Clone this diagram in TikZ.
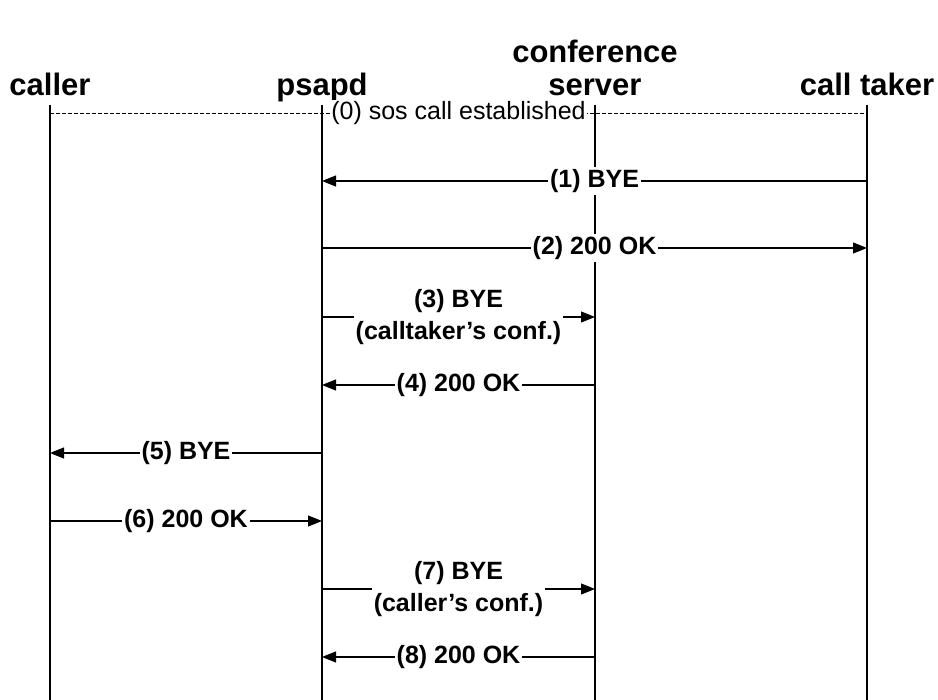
\documentclass[tikz,border=0pt]{standalone}
\usepackage{fontspec}
\setmainfont{Liberation Sans}
\usetikzlibrary{arrows.meta,positioning}
\tikzset{
  base/.style={font=\bfseries\fontsize{25}{32}\selectfont, align=center, inner sep=2pt},
  head/.style={base, font=\bfseries\fontsize{31}{33}\selectfont, anchor=base},
  life/.style={line width=2.8pt},
  msg/.style={-{Triangle[length=14pt,width=11pt]}, line width=1.1pt},
  lbl/.style={base, fill=white},
  est/.style={dash pattern=on 4pt off 2pt, line width=0.7pt},
  estlbl/.style={lbl, font=\fontsize{25}{28}\selectfont, inner sep=1pt},
}

\begin{document}
\begin{tikzpicture}[x=1pt,y=-1pt]
  \useasboundingbox (0,0) rectangle (938,700);
  % lifelines
  \foreach \n/\x/\t in {caller/50/caller, psapd/322/psapd, conf/595/{conference\\server}, taker/867/{call taker}}{
    \node[head] (\n) at (\x,96) {\t};
    \coordinate (\n top) at (\x,105);
    \coordinate (\n end) at (\x,700);
    \draw[life] (\n top) -- (\n end);
  }
  % established call
  \coordinate (y0) at (0,113);
  \draw[est] (caller |- y0) -- (taker |- y0) node[estlbl, midway] {(0) sos call established};
  % messages
  \foreach \y/\a/\b/\t in {181/taker/psapd/{(1) BYE},
                           248/psapd/taker/{(2) 200 OK},
                           317/psapd/conf/{(3) BYE\\(calltaker’s conf.)},
                           385/conf/psapd/{(4) 200 OK},
                           453/psapd/caller/{(5) BYE},
                           521/caller/psapd/{(6) 200 OK},
                           589/psapd/conf/{(7) BYE\\(caller’s conf.)},
                           657/conf/psapd/{(8) 200 OK}}{
    \coordinate (m\y) at (0,\y);
    \draw[msg] (\a top |- m\y) -- (\b top |- m\y) node[lbl, midway] {\t};
  }
\end{tikzpicture}
\end{document}
